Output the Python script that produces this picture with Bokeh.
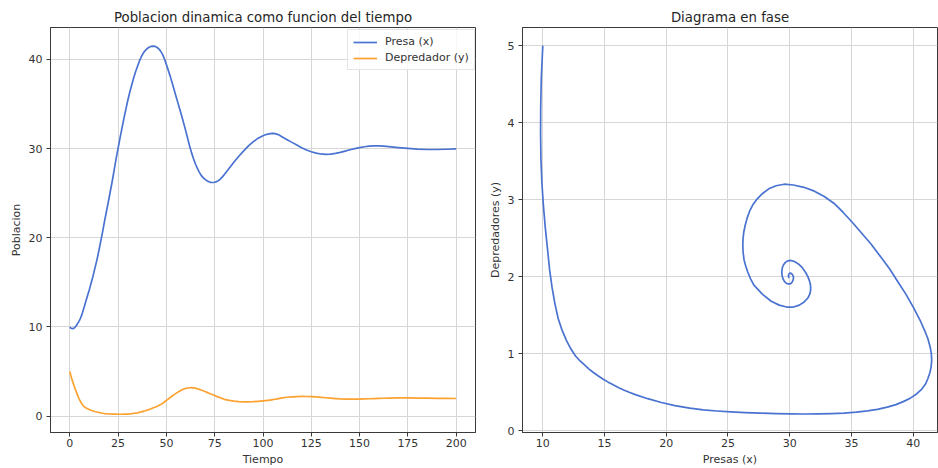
from bokeh.plotting import figure
from bokeh.layouts import row
from bokeh.models import ColumnDataSource, Range1d, FixedTicker, Legend, LegendItem
from bokeh.embed import file_html
from bokeh.resources import INLINE

# ---- data ----
tiempo = [0, 0.5, 1, 1.5, 2, 2.5, 3, 3.5, 4, 4.5, 5, 5.5, 6, 6.5, 7, 7.5, 8, 8.5, 9, 9.5,
          10, 10.5, 11, 11.5, 12, 12.5, 13, 13.5, 14,
          15, 16, 17, 18, 19, 20, 21, 22, 23, 24, 25, 26, 27, 28, 29,
          30, 31, 32, 33, 34, 35, 36, 37, 38, 39, 40, 41, 42, 43, 44,
          45, 46, 47, 48, 49, 50, 51, 52, 53, 54, 55, 56, 57, 58, 59,
          60, 61, 62, 63, 64, 65, 66, 67, 68, 69, 70, 71, 72, 73, 74,
          75, 76, 77, 78, 79, 80,
          82.5, 85, 87.5, 90, 92.5, 95, 97.5, 100,
          101.25, 102.5, 103.75, 105, 106.25, 107.5, 108.75, 110,
          112.5, 115, 117.5, 120, 122.5, 125, 127.5, 130, 132.5, 135, 137.5,
          140, 142.5, 145, 147.5, 150, 152.5, 155, 157.5, 160, 162.5, 165,
          170, 175, 180, 185, 190, 195, 200]

presa = [10.0, 9.88, 9.83, 9.82, 9.85, 9.93, 10.05, 10.2, 10.38, 10.55, 10.75, 10.98, 11.24,
         11.56, 11.92, 12.28, 12.65, 13.02, 13.4, 13.75,
         14.1, 14.5, 14.9, 15.3, 15.7, 16.15, 16.6, 17.05, 17.5,
         18.5, 19.6, 20.7, 21.9, 23.0, 24.1, 25.25, 26.4, 27.65, 28.9, 30.05, 31.2, 32.3, 33.4, 34.4,
         35.4, 36.3, 37.1, 37.9, 38.6, 39.2, 39.8, 40.3, 40.7, 41.0, 41.2, 41.36, 41.46, 41.5, 41.47,
         41.37, 41.2, 40.93, 40.57, 40.05, 39.42, 38.77, 38.1, 37.35, 36.6, 35.85, 35.1, 34.35, 33.6, 32.8,
         32.0, 31.15, 30.3, 29.55, 28.9, 28.3, 27.8, 27.37, 27.0, 26.75, 26.55, 26.4, 26.28, 26.22, 26.2,
         26.23, 26.3, 26.43, 26.6, 26.83, 27.1,
         27.8, 28.5, 29.15, 29.75, 30.3, 30.78, 31.17, 31.45,
         31.55, 31.63, 31.68, 31.7, 31.68, 31.6, 31.47, 31.3,
         31.0, 30.7, 30.4, 30.1, 29.85, 29.65, 29.5, 29.4, 29.36, 29.38, 29.46,
         29.58, 29.72, 29.87, 30.0, 30.12, 30.21, 30.27, 30.3, 30.3, 30.27, 30.22,
         30.12, 30.02, 29.94, 29.9, 29.9, 29.93, 29.97]

depredador = [5.0, 4.58, 4.2, 3.85, 3.52, 3.21, 2.92, 2.64, 2.36, 2.09, 1.86, 1.65, 1.46,
              1.305, 1.17, 1.06, 0.97, 0.905, 0.85, 0.80,
              0.755, 0.71, 0.668, 0.63, 0.595, 0.558, 0.525, 0.495, 0.468,
              0.415, 0.365, 0.325, 0.292, 0.27, 0.255, 0.243, 0.234, 0.227, 0.222, 0.218, 0.216,
              0.217, 0.221, 0.228,
              0.24, 0.256, 0.277, 0.305, 0.338, 0.377, 0.425, 0.48, 0.54, 0.605, 0.68, 0.755, 0.835,
              0.915, 1.0,
              1.09, 1.19, 1.3, 1.43, 1.59, 1.77, 1.93, 2.1, 2.26, 2.42, 2.56, 2.70, 2.83, 2.95, 3.04,
              3.11, 3.16, 3.19, 3.2, 3.18, 3.14, 3.08, 3.01, 2.93, 2.85, 2.76, 2.67, 2.58, 2.49, 2.4,
              2.31, 2.22, 2.14, 2.06, 1.97, 1.89,
              1.77, 1.68, 1.63, 1.605, 1.605, 1.63, 1.67, 1.72,
              1.745, 1.775, 1.81, 1.85, 1.895, 1.945, 2.0, 2.05,
              2.12, 2.165, 2.195, 2.21, 2.205, 2.185, 2.155, 2.115, 2.065, 2.015, 1.97,
              1.935, 1.915, 1.905, 1.905, 1.915, 1.935, 1.955, 1.975, 1.995, 2.012, 2.027,
              2.042, 2.045, 2.035, 2.017, 2.0, 1.99, 1.985]

ticks_tiempo = [0, 25, 50, 75, 100, 125, 150, 175, 200]
ticks_poblacion = [0, 10, 20, 30, 40]
ticks_presas = [10, 15, 20, 25, 30, 35, 40]
ticks_depredadores = [0, 1, 2, 3, 4, 5]

BLUE = "#4a73d1"
ORANGE = "#fba231"
FONT = "DejaVu Sans"
TXT = "#333333"

src = ColumnDataSource(dict(t=tiempo, x=presa, y=depredador))


def style(p, xt, yt, ylab_standoff):
    p.title.text_font = FONT
    p.title.text_font_size = "13.3px"
    p.title.text_font_style = "normal"
    p.title.text_color = "#262626"
    p.title.align = "center"
    p.title.standoff = 6
    p.outline_line_color = "#3a3a3a"
    p.outline_line_width = 1
    p.background_fill_color = "white"
    p.border_fill_color = "white"
    p.xaxis.ticker = FixedTicker(ticks=xt)
    p.yaxis.ticker = FixedTicker(ticks=yt)
    for ax in (p.xaxis[0], p.yaxis[0]):
        ax.axis_line_color = "#3a3a3a"
        ax.major_tick_line_color = "#3a3a3a"
        ax.major_tick_out = 4
        ax.major_tick_in = 0
        ax.minor_tick_line_color = None
        ax.major_label_text_font = FONT
        ax.major_label_text_font_size = "11px"
        ax.major_label_text_color = TXT
        ax.axis_label_text_font = FONT
        ax.axis_label_text_font_size = "11px"
        ax.axis_label_text_font_style = "normal"
        ax.axis_label_text_color = TXT
    p.xaxis.major_label_standoff = 2
    p.yaxis.major_label_standoff = 4
    p.xaxis.axis_label_standoff = 3
    p.yaxis.axis_label_standoff = ylab_standoff
    p.xgrid.grid_line_color = "#d6d6d6"
    p.ygrid.grid_line_color = "#d6d6d6"
    p.xgrid.grid_line_width = 1
    p.ygrid.grid_line_width = 1


p1 = figure(width=485, height=468, x_range=Range1d(-10, 210), y_range=Range1d(-1.83, 43.58),
            output_backend="svg", toolbar_location=None,
            min_border_left=50, min_border_right=10, min_border_top=27, min_border_bottom=36,
            title="Poblacion dinamica como funcion del tiempo")
style(p1, ticks_tiempo, ticks_poblacion, 3)
p1.xaxis.axis_label = "Tiempo"
p1.yaxis.axis_label = "Poblacion"
r1 = p1.line("t", "x", source=src, line_color=BLUE, line_width=1.7, line_join="round")
r2 = p1.line("t", "y", source=src, line_color=ORANGE, line_width=1.7, line_join="round")
legend = Legend(items=[LegendItem(label="Presa (x)", renderers=[r1]),
                       LegendItem(label="Depredador (y)", renderers=[r2])],
                location=(297, 362))
legend.label_text_font = FONT
legend.label_text_font_size = "11px"
legend.label_text_color = TXT
legend.label_height = 12
legend.glyph_height = 12
legend.glyph_width = 24
legend.label_standoff = 8
legend.padding = 5
legend.spacing = 3
legend.margin = 0
legend.border_line_color = "#cccccc"
legend.border_line_width = 1
legend.background_fill_alpha = 0.85
p1.add_layout(legend)

p2 = figure(width=453, height=468, x_range=Range1d(8.356, 41.97), y_range=Range1d(-0.024, 5.235),
            output_backend="svg", toolbar_location=None,
            min_border_left=37, min_border_right=1, min_border_top=27, min_border_bottom=36,
            title="Diagrama en fase")
style(p2, ticks_presas, ticks_depredadores, 3)
p2.title.offset = 4
p2.xaxis.axis_label = "Presas (x)"
p2.yaxis.axis_label = "Depredadores (y)"
p2.line("x", "y", source=src, line_color=BLUE, line_width=1.7, line_join="round")

layout = row(p1, p2)
open("out.html", "w").write(file_html(layout, INLINE))
